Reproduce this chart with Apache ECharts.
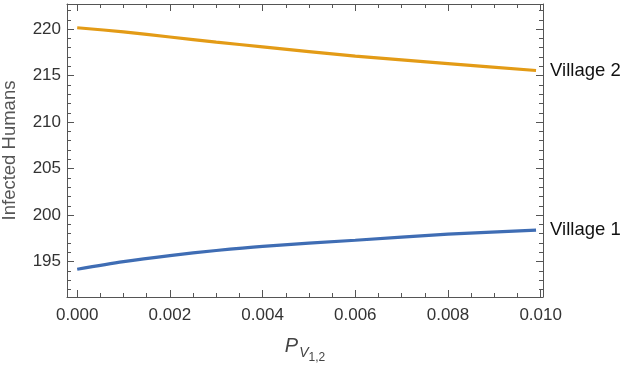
<!DOCTYPE html>
<html>
<head>
<meta charset="utf-8">
<script src="https://cdn.jsdelivr.net/npm/echarts@6/dist/echarts.min.js"></script>
<style>
  html, body { margin: 0; padding: 0; background: #fff; }
  #chart { width: 624px; height: 368px; }
</style>
</head>
<body>
<div id="chart"></div>
<script>
    // values
    const xVillage1 = [0, 0.001, 0.002, 0.003, 0.004, 0.006, 0.008, 0.0099];
    const yVillage1 = [194.18, 195.0, 195.65, 196.2, 196.65, 197.3, 197.95, 198.4];
    const xVillage2 = [0, 0.001, 0.002, 0.003, 0.004, 0.006, 0.008, 0.0099];
    const yVillage2 = [220.15, 219.7, 219.15, 218.6, 218.1, 217.1, 216.3, 215.55];

    const xMajorTicks = [0, 0.002, 0.004, 0.006, 0.008, 0.010];
    const xMinorTicks = [0, 0.0005, 0.001, 0.0015, 0.002, 0.0025, 0.003, 0.0035, 0.004, 0.0045,
        0.005, 0.0055, 0.006, 0.0065, 0.007, 0.0075, 0.008, 0.0085, 0.009, 0.0095, 0.010];
    const yMajorTicks = [195, 200, 205, 210, 215, 220];
    const yMinorTicks = [192, 193, 194, 195, 196, 197, 198, 199, 200, 201, 202, 203, 204, 205, 206,
        207, 208, 209, 210, 211, 212, 213, 214, 215, 216, 217, 218, 219, 220, 221, 222];

    const xMin = -0.00022, xMax = 0.01005;
    const yMin = 191.2, yMax = 222.7;

    const frameColor = '#555';
    const fontFamily = 'Liberation Sans, Arial, sans-serif';

    function pair(xs, ys) {
        return xs.map((x, i) => [x, ys[i]]);
    }

    function makeAxis(position, min, max, ticks, len, withLine, withLabels, extra) {
        return Object.assign({
            type: 'value',
            position: position,
            min: min,
            max: max,
            splitLine: { show: false },
            axisLine: { show: withLine, onZero: false, lineStyle: { color: frameColor, width: 1 } },
            axisTick: { show: true, inside: true, length: len, customValues: ticks,
                lineStyle: { color: frameColor, width: 1 } },
            axisLabel: { show: withLabels, customValues: ticks }
        }, extra || {});
    }

    const chart = echarts.init(document.getElementById('chart'), null, { renderer: 'canvas' });

    const option = {
        animation: false,
        grid: { left: 67, top: 4, right: 81, bottom: 71, containLabel: false, outerBoundsMode: 'none' },
        xAxis: [
            makeAxis('bottom', xMin, xMax, xMajorTicks, 7, true, true, {
                axisLabel: {
                    show: true, customValues: xMajorTicks, margin: 10,
                    fontSize: 17, color: '#333', fontFamily: fontFamily,
                    formatter: v => v.toFixed(3)
                },
                name: '{p|P}{v|V}{s|1,2}',
                nameLocation: 'middle',
                nameGap: 32,
                nameTextStyle: {
                    rich: {
                        p: { fontSize: 20, fontStyle: 'italic', color: '#444', fontFamily: fontFamily },
                        v: { fontSize: 14, fontStyle: 'italic', color: '#444', fontFamily: fontFamily, padding: [13, 0, 0, 1] },
                        s: { fontSize: 12, color: '#444', fontFamily: fontFamily, padding: [23, 0, 0, 0] }
                    }
                }
            }),
            makeAxis('bottom', xMin, xMax, xMinorTicks, 4, false, false),
            makeAxis('top', xMin, xMax, xMajorTicks, 7, true, false),
            makeAxis('top', xMin, xMax, xMinorTicks, 4, false, false)
        ],
        yAxis: [
            makeAxis('left', yMin, yMax, yMajorTicks, 7, true, true, {
                axisLabel: {
                    show: true, customValues: yMajorTicks, margin: 6,
                    fontSize: 17, color: '#333', fontFamily: fontFamily
                },
                name: 'Infected Humans',
                nameLocation: 'middle',
                nameGap: 48,
                nameTextStyle: { fontSize: 18.5, color: '#555', fontFamily: fontFamily }
            }),
            makeAxis('left', yMin, yMax, yMinorTicks, 4, false, false),
            makeAxis('right', yMin, yMax, yMajorTicks, 7, true, false),
            makeAxis('right', yMin, yMax, yMinorTicks, 4, false, false)
        ],
        series: [
            {
                name: 'Village 1',
                type: 'line',
                xAxisIndex: 0,
                yAxisIndex: 0,
                data: pair(xVillage1, yVillage1),
                smooth: 0.3,
                showSymbol: false,
                lineStyle: { color: '#3f6db4', width: 3.2 },
                endLabel: {
                    show: true, formatter: '{a}', distance: 14,
                    fontSize: 18.5, color: '#111', fontFamily: fontFamily
                }
            },
            {
                name: 'Village 2',
                type: 'line',
                xAxisIndex: 0,
                yAxisIndex: 0,
                data: pair(xVillage2, yVillage2),
                smooth: 0.3,
                showSymbol: false,
                lineStyle: { color: '#e39b16', width: 3.2 },
                endLabel: {
                    show: true, formatter: '{a}', distance: 14,
                    fontSize: 18.5, color: '#111', fontFamily: fontFamily
                }
            }
        ]
    };

    chart.setOption(option);
</script>
</body>
</html>
